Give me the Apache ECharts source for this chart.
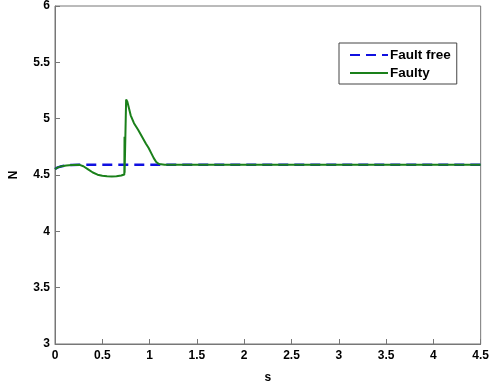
<!DOCTYPE html>
<html>
<head>
<meta charset="utf-8">
<script src="https://cdn.jsdelivr.net/npm/echarts@6/dist/echarts.min.js"></script>
<style>html,body{margin:0;padding:0;background:#fff}#c{width:492px;height:390px}</style>
</head>
<body>
<div id="c"></div>
<script>
var seriesNames = ['Fault free', 'Faulty'];
var xTicks = [0, 0.5, 1, 1.5, 2, 2.5, 3, 3.5, 4, 4.5];
var yTicks = [3, 3.5, 4, 4.5, 5, 5.5, 6];
var faultFree = [
  [0, 4.553], [0.03, 4.568], [0.07, 4.578], [0.12, 4.585], [0.18, 4.589], [0.26, 4.59],
  [0.6, 4.59], [1.0, 4.59], [1.5, 4.59], [2.0, 4.59], [3.0, 4.59], [4.0, 4.59], [4.5, 4.59]
];
var faulty = [
  [0, 4.553], [0.03, 4.568], [0.07, 4.578], [0.12, 4.585], [0.18, 4.589], [0.26, 4.59],
  [0.3, 4.578], [0.35, 4.55], [0.4, 4.522], [0.45, 4.503], [0.5, 4.493], [0.55, 4.488],
  [0.6, 4.486], [0.65, 4.488], [0.7, 4.495], [0.733, 4.505], [0.735, 4.84], [0.736, 4.52],
  [0.746, 4.51], [0.752, 5.17], [0.765, 5.15], [0.78, 5.1], [0.8, 5.03], [0.835, 4.96], [0.88, 4.9],
  [0.92, 4.84], [0.96, 4.78], [0.99, 4.74], [1.02, 4.69], [1.044, 4.65], [1.07, 4.615],
  [1.1, 4.597], [1.16, 4.59], [1.5, 4.59], [2.0, 4.59], [3.0, 4.59], [4.0, 4.59], [4.5, 4.59]
];
var font = '"Liberation Sans", Arial, sans-serif';
var chart = echarts.init(document.getElementById('c'), null, {renderer: 'canvas'});
chart.setOption({
  animation: false,
  backgroundColor: '#fff',
  grid: {left: 52, top: 6, right: 10, bottom: 46, show: true, borderColor: '#777', borderWidth: 1, backgroundColor: 'transparent'},
  legend: {
    data: seriesNames,
    orient: 'vertical',
    left: 339, top: 43,
    borderColor: '#444', borderWidth: 1,
    padding: [5, 6, 4, 10],
    itemGap: 4,
    itemWidth: 38, itemHeight: 10,
    itemStyle: {opacity: 0, borderWidth: 0},
    textStyle: {fontFamily: font, fontWeight: 'bold', fontSize: 13.5, color: '#000', padding: [0, 0, 0, -3]}
  },
  xAxis: {
    type: 'value', min: xTicks[0], max: xTicks[xTicks.length - 1], interval: 0.5,
    name: 's', nameLocation: 'middle', nameGap: 28,
    nameTextStyle: {fontFamily: font, fontWeight: 'bold', fontSize: 12, color: '#000'},
    axisLine: {show: true, lineStyle: {color: '#777', width: 1}},
    axisTick: {show: true, inside: true, length: 5, lineStyle: {color: '#777'}},
    axisLabel: {fontFamily: font, fontWeight: 'bold', fontSize: 12, color: '#000', margin: 6},
    splitLine: {show: false}
  },
  yAxis: {
    type: 'value', min: yTicks[0], max: yTicks[yTicks.length - 1], interval: 0.5,
    name: 'N', nameLocation: 'middle', nameGap: 35, nameRotate: 90,
    nameTextStyle: {fontFamily: font, fontWeight: 'bold', fontSize: 12, color: '#000'},
    axisLine: {show: true, lineStyle: {color: '#777', width: 1}},
    axisTick: {show: true, inside: true, length: 5, lineStyle: {color: '#777'}},
    axisLabel: {fontFamily: font, fontWeight: 'bold', fontSize: 12, color: '#000', margin: 5},
    splitLine: {show: false}
  },
  series: [
    {name: seriesNames[0], type: 'line', data: faultFree, symbol: 'none', showSymbol: false, z: 2,
     color: '#1010e0',
     lineStyle: {color: '#1010e0', width: 2.5, type: [10, 6]}},
    {name: seriesNames[1], type: 'line', data: faulty, symbol: 'none', showSymbol: false, z: 3,
     color: '#1a801a',
     lineStyle: {color: '#1a801a', width: 2}}
  ]
});
</script>
</body>
</html>
